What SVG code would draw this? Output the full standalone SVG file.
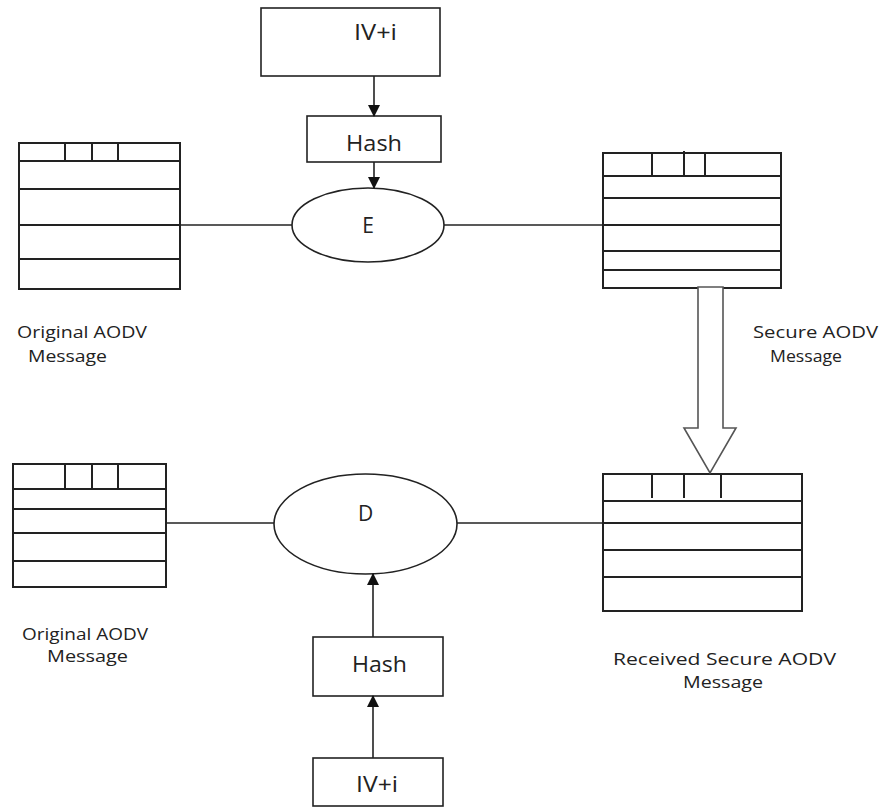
<svg xmlns="http://www.w3.org/2000/svg" width="880" height="809" viewBox="0 0 880 809">
<style>
.box{fill:#fff;stroke:#222;stroke-width:1.6}
.ln{stroke:#222;stroke-width:1.6;fill:none}
.tbl{fill:#fff;stroke:#222;stroke-width:2}
.tl{stroke:#222;stroke-width:2}
.t{font-family:"Open Sans","Liberation Sans",sans-serif;fill:#222}
.big{font-size:21px}
.lab{font-size:17px}
</style>
<defs>
<marker id="ah" markerWidth="12" markerHeight="12" refX="11" refY="6" orient="auto" markerUnits="userSpaceOnUse">
<path d="M0,0 L12,6 L0,12 Z" fill="#111"/>
</marker>
</defs>
<rect width="880" height="809" fill="#fff"/>

<g id="iv-top">
<rect class="box" x="261" y="8" width="179" height="68"/>
<text class="t big" x="375.5" y="40" text-anchor="middle" textLength="43" lengthAdjust="spacingAndGlyphs">IV+i</text>
</g>
<g id="hash-top">
<rect class="box" x="307" y="116" width="134" height="46"/>
<text class="t big" x="374" y="151" text-anchor="middle" textLength="56" lengthAdjust="spacingAndGlyphs">Hash</text>
</g>
<g id="E">
<ellipse class="box" cx="368" cy="225" rx="76" ry="37"/>
<text class="t big" x="368" y="233" text-anchor="middle">E</text>
</g>
<g id="orig-top">
<rect class="tbl" x="19" y="143" width="161" height="146"/>
<line class="tl" x1="19" y1="161" x2="180" y2="161"/>
<line class="tl" x1="19" y1="189" x2="180" y2="189"/>
<line class="tl" x1="19" y1="225" x2="180" y2="225"/>
<line class="tl" x1="19" y1="259" x2="180" y2="259"/>
<line class="tl" x1="65" y1="143" x2="65" y2="161"/>
<line class="tl" x1="92" y1="143" x2="92" y2="161"/>
<line class="tl" x1="118" y1="143" x2="118" y2="161"/>
</g>
<g id="secure-top">
<rect class="tbl" x="603" y="153" width="178" height="135"/>
<line class="tl" x1="603" y1="176" x2="781" y2="176"/>
<line class="tl" x1="603" y1="198" x2="781" y2="198"/>
<line class="tl" x1="603" y1="225" x2="781" y2="225"/>
<line class="tl" x1="603" y1="251" x2="781" y2="251"/>
<line class="tl" x1="603" y1="270" x2="781" y2="270"/>
<line class="tl" x1="652" y1="153" x2="652" y2="176"/>
<line class="tl" x1="684" y1="151" x2="684" y2="176"/>
<line class="tl" x1="705" y1="153" x2="705" y2="176"/>
</g>
<g id="orig-top-label">
<text class="t lab" x="17" y="338" textLength="130" lengthAdjust="spacingAndGlyphs">Original AODV</text>
<text class="t lab" x="28" y="362" textLength="79" lengthAdjust="spacingAndGlyphs">Message</text>
</g>
<g id="secure-label">
<text class="t lab" x="753" y="338" textLength="125" lengthAdjust="spacingAndGlyphs">Secure AODV</text>
<text class="t lab" x="770" y="362" textLength="72" lengthAdjust="spacingAndGlyphs">Message</text>
</g>

<g id="orig-bottom">
<rect class="tbl" x="13" y="464" width="153" height="123"/>
<line class="tl" x1="13" y1="489" x2="166" y2="489"/>
<line class="tl" x1="13" y1="509" x2="166" y2="509"/>
<line class="tl" x1="13" y1="533" x2="166" y2="533"/>
<line class="tl" x1="13" y1="561" x2="166" y2="561"/>
<line class="tl" x1="65" y1="464" x2="65" y2="489"/>
<line class="tl" x1="92" y1="464" x2="92" y2="489"/>
<line class="tl" x1="118" y1="464" x2="118" y2="489"/>
</g>
<g id="received">
<rect class="tbl" x="603" y="474" width="199" height="137"/>
<line class="tl" x1="603" y1="501" x2="802" y2="501"/>
<line class="tl" x1="603" y1="523" x2="802" y2="523"/>
<line class="tl" x1="603" y1="550" x2="802" y2="550"/>
<line class="tl" x1="603" y1="577" x2="802" y2="577"/>
<line class="tl" x1="652" y1="474" x2="652" y2="498"/>
<line class="tl" x1="684" y1="474" x2="684" y2="498"/>
<line class="tl" x1="721" y1="474" x2="721" y2="498"/>
</g>
<g id="D">
<ellipse class="box" cx="365.5" cy="524" rx="91.5" ry="50"/>
<text class="t big" x="365.5" y="521" text-anchor="middle">D</text>
</g>
<g id="hash-bottom">
<rect class="box" x="313" y="637" width="130" height="59"/>
<text class="t big" x="379.5" y="672" text-anchor="middle" textLength="55" lengthAdjust="spacingAndGlyphs">Hash</text>
</g>
<g id="iv-bottom">
<rect class="box" x="313" y="758" width="130" height="48"/>
<text class="t big" x="377" y="792" text-anchor="middle" textLength="42" lengthAdjust="spacingAndGlyphs">IV+i</text>
</g>
<g id="orig-bottom-label">
<text class="t lab" x="22" y="640" textLength="126" lengthAdjust="spacingAndGlyphs">Original AODV</text>
<text class="t lab" x="47" y="662" textLength="81" lengthAdjust="spacingAndGlyphs">Message</text>
</g>
<g id="received-label">
<text class="t lab" x="613" y="665" textLength="223" lengthAdjust="spacingAndGlyphs">Received Secure AODV</text>
<text class="t lab" x="683" y="688" textLength="80" lengthAdjust="spacingAndGlyphs">Message</text>
</g>

<g id="connectors">
<line class="ln" x1="374" y1="76" x2="374" y2="116" marker-end="url(#ah)"/>
<line class="ln" x1="374" y1="162" x2="374" y2="188" marker-end="url(#ah)"/>
<line class="ln" x1="180" y1="225" x2="292" y2="225"/>
<line class="ln" x1="444" y1="225" x2="603" y2="225"/>
<line class="ln" x1="166" y1="523" x2="274" y2="523"/>
<line class="ln" x1="457" y1="523" x2="603" y2="523"/>
<line class="ln" x1="373" y1="637" x2="373" y2="574" marker-end="url(#ah)"/>
<line class="ln" x1="373" y1="758" x2="373" y2="696" marker-end="url(#ah)"/>
<polygon points="698,287 723,287 723,428 736,428 710,473 684,428 698,428" fill="#fff" stroke="#555" stroke-width="1.6"/>
</g>
</svg>
